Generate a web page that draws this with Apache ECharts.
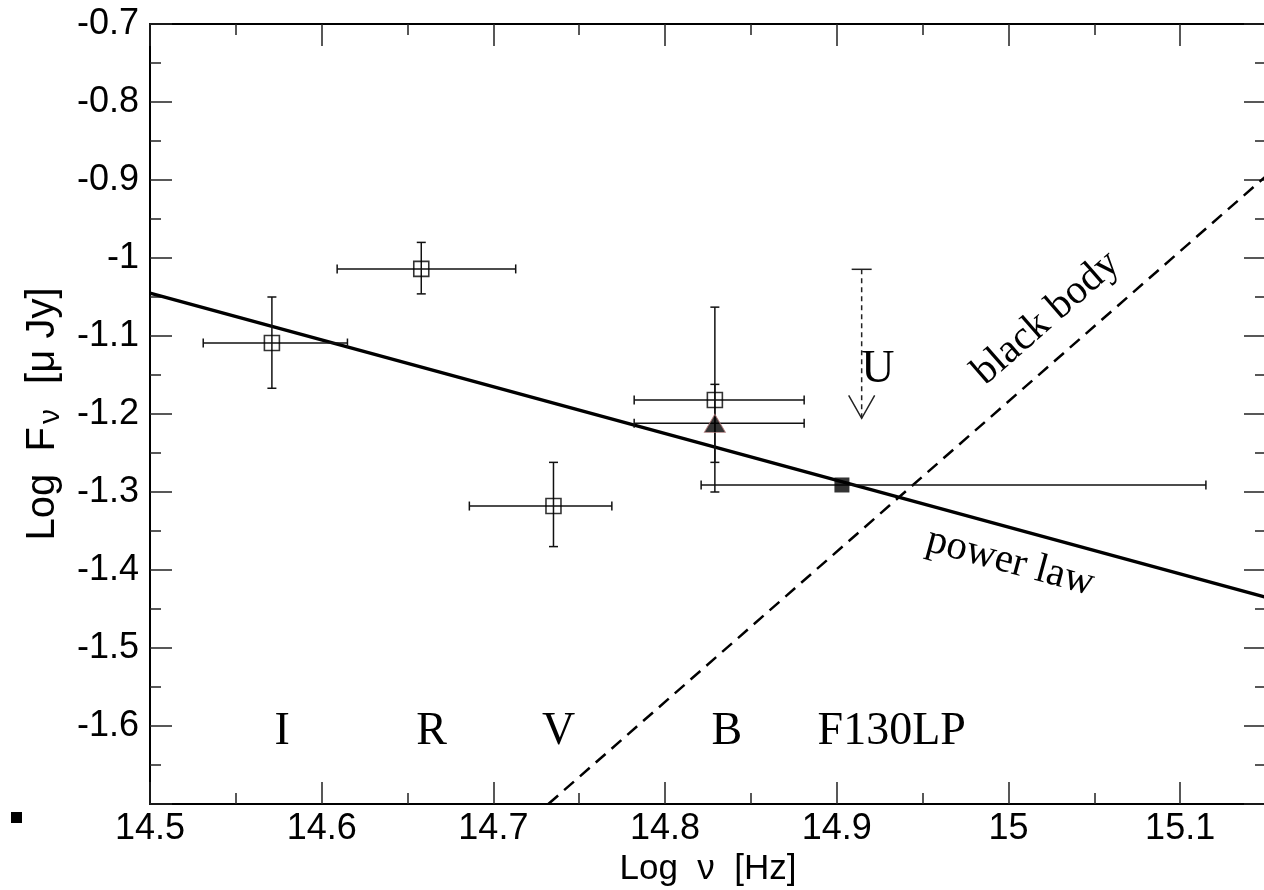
<!DOCTYPE html>
<html>
<head>
<meta charset="utf-8">
<script src="https://cdn.jsdelivr.net/npm/echarts@6/dist/echarts.min.js"></script>
<style>
  html, body { margin: 0; padding: 0; background: #fff; }
  #chart { width: 1264px; height: 890px; }
</style>
</head>
<body>
<div id="chart"></div>
<script>
// ---- Axis ranges and ticks ----
const xMin = 14.5, xMax = 15.15;
const xMajorTicks = [14.5, 14.6, 14.7, 14.8, 14.9, 15.0, 15.1];
const xMinorTicks = [14.55, 14.65, 14.75, 14.85, 14.95, 15.05];
const yMin = -1.7, yMax = -0.7, yStep = 0.1;
const hiddenYTickLabels = [-1.7];

// ---- Open squares (I, R, V, B) with error bars ----
const openX   = [14.571, 14.658, 14.735, 14.829];
const openY   = [-1.109, -1.014, -1.318, -1.182];
const openXLo = [14.531, 14.609, 14.686, 14.782];
const openXHi = [14.615, 14.713, 14.769, 14.881];
const openYLo = [-1.167, -1.046, -1.370, -1.300];
const openYHi = [-1.050, -0.980, -1.262, -1.063];

// ---- Filled triangle (B) ----
const triX   = [14.829];
const triY   = [-1.212];
const triXLo = [14.782];
const triXHi = [14.881];
const triYLo = [-1.262];
const triYHi = [-1.162];

// ---- Filled square (F130LP) ----
const fillX   = [14.903];
const fillY   = [-1.291];
const fillXLo = [14.821];
const fillXHi = [15.115];

// ---- Upper limit (U) ----
const ulX    = [14.9145];
const ulYTop = [-1.0145];
const ulYTip = [-1.2055];

// ---- Model lines ----
const powerLawX  = [14.5, 15.15];
const powerLawY  = [-1.045, -1.435];
const blackBodyX = [14.732, 15.15];
const blackBodyY = [-1.7, -0.895];

// ---- Band labels ----
const bandNames = ['I', 'R', 'V', 'B', 'F130LP'];
const bandX     = [14.577, 14.664, 14.738, 14.836, 14.932];
const bandY     = [-1.608, -1.608, -1.608, -1.608, -1.608];

// ---- Other annotations ----
const annoText = ['U', 'black body', 'power law'];
const annoX    = [14.924, 15.022, 15.001];
const annoY    = [-1.143, -1.077, -1.390];

const SANS = '"Liberation Sans", Arial, Helvetica, sans-serif';
const SERIF = '"Liberation Serif", "Times New Roman", Times, serif';

const zip = (a, b) => a.map((v, i) => [v, b[i]]);

const chart = echarts.init(document.getElementById('chart'), null, { renderer: 'canvas' });

function errBarRender(params, api) {
  const x = api.value(0), y = api.value(1);
  const c = api.coord([x, y]);
  const l = api.coord([api.value(2), y]);
  const r = api.coord([api.value(3), y]);
  const b = api.coord([x, api.value(4)]);
  const t = api.coord([x, api.value(5)]);
  const st = { stroke: '#111', lineWidth: 1.5 };
  const cap = 4.5;
  const ch = [
    { type: 'line', shape: { x1: l[0], y1: c[1], x2: r[0], y2: c[1] }, style: st },
    { type: 'line', shape: { x1: l[0], y1: c[1] - cap, x2: l[0], y2: c[1] + cap }, style: st },
    { type: 'line', shape: { x1: r[0], y1: c[1] - cap, x2: r[0], y2: c[1] + cap }, style: st }
  ];
  if (Math.abs(b[1] - t[1]) > 1) {
    ch.push({ type: 'line', shape: { x1: c[0], y1: b[1], x2: c[0], y2: t[1] }, style: st });
    ch.push({ type: 'line', shape: { x1: c[0] - cap, y1: b[1], x2: c[0] + cap, y2: b[1] }, style: st });
    ch.push({ type: 'line', shape: { x1: c[0] - cap, y1: t[1], x2: c[0] + cap, y2: t[1] }, style: st });
  }
  return { type: 'group', children: ch };
}

const errData = [];
openX.forEach((v, i) => errData.push([v, openY[i], openXLo[i], openXHi[i], openYLo[i], openYHi[i]]));
triX.forEach((v, i) => errData.push([v, triY[i], triXLo[i], triXHi[i], triYLo[i], triYHi[i]]));
fillX.forEach((v, i) => errData.push([v, fillY[i], fillXLo[i], fillXHi[i], fillY[i], fillY[i]]));

const annoRot = { 'U': 0, 'black body': 41.2, 'power law': -15.2 };
const annoSize = { 'U': 46, 'black body': 41, 'power law': 41 };

const textData = [];
bandNames.forEach((n, i) => textData.push([bandX[i], bandY[i], n]));
annoText.forEach((n, i) => textData.push([annoX[i], annoY[i], n]));

const tickStyle = { color: '#222', width: 1.5 };
const axisLineStyle = { color: '#000', width: 2 };

function xAxisDef(pos, ticks, len, withLine, withLabels) {
  const a = {
    type: 'value', position: pos, min: xMin, max: xMax,
    splitLine: { show: false },
    axisLine: { show: withLine, onZero: false, lineStyle: axisLineStyle },
    axisTick: { show: true, inside: true, length: len, customValues: ticks, lineStyle: tickStyle },
    minorTick: { show: false },
    axisLabel: { show: false }
  };
  if (withLabels) {
    a.axisLabel = { show: true, customValues: ticks, fontFamily: SANS, fontSize: 36, color: '#000', margin: 7,
      formatter: v => String(+(+v).toFixed(2)) };
    a.name = 'Log  ν  [Hz]';
    a.nameLocation = 'middle';
    a.nameGap = 44;
    a.nameTextStyle = { fontFamily: SANS, fontSize: 35, color: '#000' };
  }
  return a;
}

function yAxisDef(pos, withLabels) {
  const a = {
    type: 'value', position: pos, min: yMin, max: yMax, interval: yStep,
    splitLine: { show: false },
    axisLine: { show: true, onZero: false, lineStyle: axisLineStyle },
    axisTick: { show: true, inside: true, length: 22, lineStyle: tickStyle },
    minorTick: { show: true, splitNumber: 2, length: 11, lineStyle: tickStyle },
    minorSplitLine: { show: false },
    axisLabel: { show: false }
  };
  if (withLabels) {
    a.axisLabel = { show: true, fontFamily: SANS, fontSize: 36, color: '#000', margin: 11,
      formatter: v => hiddenYTickLabels.some(h => Math.abs(h - v) < 1e-6) ? '' : String(+(+v).toFixed(2)) };
    a.name = 'Log  F{sub|ν}  [μ Jy]';
    a.nameLocation = 'middle';
    a.nameRotate = 90;
    a.nameGap = 80;
    a.nameTextStyle = { fontFamily: SANS, fontSize: 40, color: '#000', lineHeight: 46,
      rich: { sub: { fontFamily: SANS, fontSize: 30, color: '#000', lineHeight: 30,
        verticalAlign: 'bottom', padding: [16, 3, 0, 3] } } };
  }
  return a;
}

const option = {
  backgroundColor: '#fff',
  animation: false,
  grid: { left: 150, top: 24, width: 1116, height: 780, containLabel: false, outerBoundsMode: 'none' },
  xAxis: [
    xAxisDef('bottom', xMajorTicks, 22, true, true),
    xAxisDef('bottom', xMinorTicks, 11, false, false),
    xAxisDef('top', xMajorTicks, 22, true, false),
    xAxisDef('top', xMinorTicks, 11, false, false)
  ],
  yAxis: [
    yAxisDef('left', true),
    yAxisDef('right', false)
  ],
  graphic: [
    { type: 'rect', left: 11, top: 812, shape: { width: 11, height: 11 }, style: { fill: '#000' } }
  ],
  series: [
    {
      name: 'power law', type: 'line', data: zip(powerLawX, powerLawY),
      symbol: 'none', lineStyle: { color: '#000', width: 3.5 }, z: 3
    },
    {
      name: 'black body', type: 'line', data: zip(blackBodyX, blackBodyY),
      symbol: 'none', lineStyle: { color: '#000', width: 2.5, type: [13, 8] }, z: 3
    },
    {
      name: 'errors', type: 'custom', data: errData, renderItem: errBarRender,
      encode: { x: 0, y: 1 }, z: 4
    },
    {
      name: 'open', type: 'scatter', data: zip(openX, openY),
      symbol: 'rect', symbolSize: 15,
      itemStyle: { color: 'rgba(255,255,255,0)', borderColor: '#000', borderWidth: 1.6 }, z: 5
    },
    {
      name: 'triangle', type: 'scatter', data: zip(triX, triY),
      symbol: 'triangle', symbolSize: [21, 18],
      itemStyle: { color: '#000', borderColor: '#b07878', borderWidth: 1 }, z: 5
    },
    {
      name: 'filled', type: 'scatter', data: zip(fillX, fillY),
      symbol: 'rect', symbolSize: 15, itemStyle: { color: '#000' }, z: 5
    },
    {
      name: 'upper limit', type: 'custom',
      data: ulX.map((v, i) => [v, ulYTop[i], ulYTip[i]]),
      encode: { x: 0, y: 1 }, z: 4,
      renderItem: (params, api) => {
        const top = api.coord([api.value(0), api.value(1)]);
        const tip = api.coord([api.value(0), api.value(2)]);
        const st = { stroke: '#222', lineWidth: 1.5 };
        return { type: 'group', children: [
          { type: 'line', shape: { x1: top[0], y1: top[1], x2: tip[0], y2: tip[1] },
            style: { stroke: '#222', lineWidth: 1.5, lineDash: [5, 4] } },
          { type: 'line', shape: { x1: top[0] - 10, y1: top[1], x2: top[0] + 10, y2: top[1] }, style: st },
          { type: 'polyline', shape: { points: [[tip[0] - 13, tip[1] - 23], [tip[0], tip[1]], [tip[0] + 13, tip[1] - 23]] },
            style: { stroke: '#222', lineWidth: 1.5, fill: null } }
        ] };
      }
    },
    {
      name: 'labels', type: 'custom', data: textData,
      encode: { x: 0, y: 1 }, z: 6,
      renderItem: (params, api) => {
        const p = api.coord([api.value(0), api.value(1)]);
        const txt = textData[params.dataIndex][2];
        const rot = annoRot[txt] || 0;
        const size = annoSize[txt] || 46;
        return {
          type: 'text', x: p[0], y: p[1], rotation: rot * Math.PI / 180,
          style: { text: txt, fontFamily: SERIF, fontSize: size, fill: '#000',
            align: 'center', verticalAlign: 'middle' }
        };
      }
    }
  ]
};

chart.setOption(option);
</script>
</body>
</html>
